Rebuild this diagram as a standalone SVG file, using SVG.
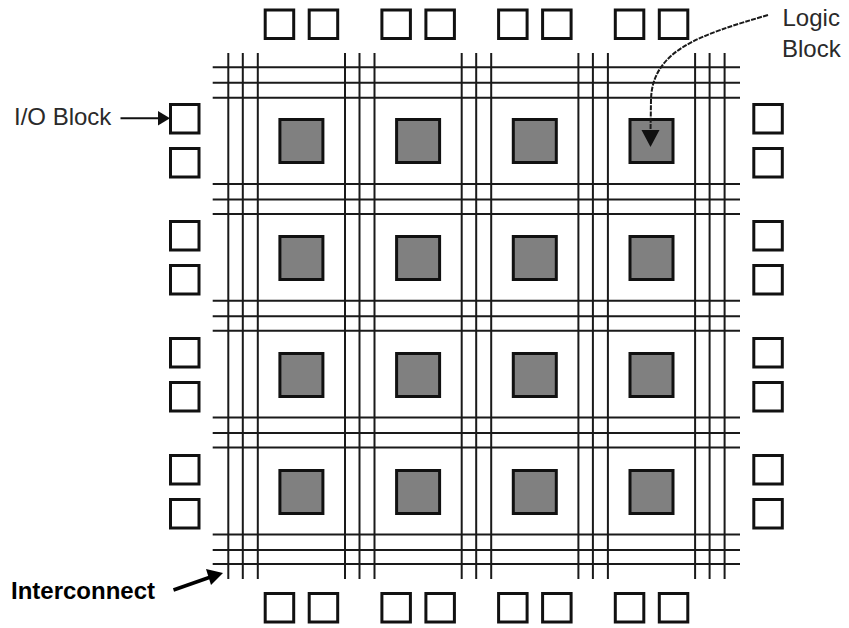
<svg xmlns="http://www.w3.org/2000/svg" width="849" height="628" viewBox="0 0 849 628">
<style>
.w{stroke:#1a1a1a;stroke-width:2;fill:none}
.lb{fill:#808080;stroke:#111;stroke-width:3}
.io{fill:#fff;stroke:#111;stroke-width:3}
.t{font-family:"Liberation Sans",Arial,sans-serif;font-size:24px;fill:#2a2a2a}
.tb{font-family:"Liberation Sans",Arial,sans-serif;font-size:24px;font-weight:bold;fill:#000}
</style>
<rect width="849" height="628" fill="#fff"/>
<g id="logic-blocks">
<g id="lb-1-1"><rect class="lb" x="279.9" y="119.5" width="43" height="43"/></g>
<g id="lb-1-2"><rect class="lb" x="396.6" y="119.5" width="43" height="43"/></g>
<g id="lb-1-3"><rect class="lb" x="513.3" y="119.5" width="43" height="43"/></g>
<g id="lb-1-4"><rect class="lb" x="630" y="119.5" width="43" height="43"/></g>
<g id="lb-2-1"><rect class="lb" x="279.9" y="236.5" width="43" height="43"/></g>
<g id="lb-2-2"><rect class="lb" x="396.6" y="236.5" width="43" height="43"/></g>
<g id="lb-2-3"><rect class="lb" x="513.3" y="236.5" width="43" height="43"/></g>
<g id="lb-2-4"><rect class="lb" x="630" y="236.5" width="43" height="43"/></g>
<g id="lb-3-1"><rect class="lb" x="279.9" y="353.5" width="43" height="43"/></g>
<g id="lb-3-2"><rect class="lb" x="396.6" y="353.5" width="43" height="43"/></g>
<g id="lb-3-3"><rect class="lb" x="513.3" y="353.5" width="43" height="43"/></g>
<g id="lb-3-4"><rect class="lb" x="630" y="353.5" width="43" height="43"/></g>
<g id="lb-4-1"><rect class="lb" x="279.9" y="470.5" width="43" height="43"/></g>
<g id="lb-4-2"><rect class="lb" x="396.6" y="470.5" width="43" height="43"/></g>
<g id="lb-4-3"><rect class="lb" x="513.3" y="470.5" width="43" height="43"/></g>
<g id="lb-4-4"><rect class="lb" x="630" y="470.5" width="43" height="43"/></g>
</g>
<g id="io-top">
<g id="io-t1"><rect class="io" x="265.2" y="10" width="28.5" height="28.5"/><rect class="io" x="309.2" y="10" width="28.5" height="28.5"/></g>
<g id="io-t2"><rect class="io" x="381.9" y="10" width="28.5" height="28.5"/><rect class="io" x="425.9" y="10" width="28.5" height="28.5"/></g>
<g id="io-t3"><rect class="io" x="498.6" y="10" width="28.5" height="28.5"/><rect class="io" x="542.6" y="10" width="28.5" height="28.5"/></g>
<g id="io-t4"><rect class="io" x="615.3" y="10" width="28.5" height="28.5"/><rect class="io" x="659.3" y="10" width="28.5" height="28.5"/></g>
</g>
<g id="io-bottom">
<g id="io-b1"><rect class="io" x="265.2" y="593.5" width="28.5" height="28.5"/><rect class="io" x="309.2" y="593.5" width="28.5" height="28.5"/></g>
<g id="io-b2"><rect class="io" x="381.9" y="593.5" width="28.5" height="28.5"/><rect class="io" x="425.9" y="593.5" width="28.5" height="28.5"/></g>
<g id="io-b3"><rect class="io" x="498.6" y="593.5" width="28.5" height="28.5"/><rect class="io" x="542.6" y="593.5" width="28.5" height="28.5"/></g>
<g id="io-b4"><rect class="io" x="615.3" y="593.5" width="28.5" height="28.5"/><rect class="io" x="659.3" y="593.5" width="28.5" height="28.5"/></g>
</g>
<g id="io-left">
<g id="io-l1"><rect class="io" x="170.5" y="104.5" width="28.5" height="28.5"/><rect class="io" x="170.5" y="148.5" width="28.5" height="28.5"/></g>
<g id="io-l2"><rect class="io" x="170.5" y="221.5" width="28.5" height="28.5"/><rect class="io" x="170.5" y="265.5" width="28.5" height="28.5"/></g>
<g id="io-l3"><rect class="io" x="170.5" y="338.5" width="28.5" height="28.5"/><rect class="io" x="170.5" y="382.5" width="28.5" height="28.5"/></g>
<g id="io-l4"><rect class="io" x="170.5" y="455.5" width="28.5" height="28.5"/><rect class="io" x="170.5" y="499.5" width="28.5" height="28.5"/></g>
</g>
<g id="io-right">
<g id="io-r1"><rect class="io" x="753.8" y="104.5" width="28.5" height="28.5"/><rect class="io" x="753.8" y="148.5" width="28.5" height="28.5"/></g>
<g id="io-r2"><rect class="io" x="753.8" y="221.5" width="28.5" height="28.5"/><rect class="io" x="753.8" y="265.5" width="28.5" height="28.5"/></g>
<g id="io-r3"><rect class="io" x="753.8" y="338.5" width="28.5" height="28.5"/><rect class="io" x="753.8" y="382.5" width="28.5" height="28.5"/></g>
<g id="io-r4"><rect class="io" x="753.8" y="455.5" width="28.5" height="28.5"/><rect class="io" x="753.8" y="499.5" width="28.5" height="28.5"/></g>
</g>
<g id="connectors">
<g id="interconnect-vertical" class="w">
<path d="M228.3,53V579M242.8,53V579M257.8,53V579"/>
<path d="M345,53V579M359.5,53V579M374.5,53V579"/>
<path d="M461.7,53V579M476.2,53V579M491.2,53V579"/>
<path d="M578.4,53V579M592.9,53V579M607.9,53V579"/>
<path d="M695.1,53V579M709.6,53V579M724.6,53V579"/>
</g>
<g id="interconnect-horizontal" class="w">
<path d="M212.7,67.2H740M212.7,82.7H740M212.7,97.7H740"/>
<path d="M212.7,184H740M212.7,199.5H740M212.7,214H740"/>
<path d="M212.7,300.8H740M212.7,316.3H740M212.7,330.8H740"/>
<path d="M212.7,417.6H740M212.7,433.1H740M212.7,447.6H740"/>
<path d="M212.7,534.4H740M212.7,550H740M212.7,564H740"/>
</g>
<path id="io-arrow" d="M120.5,118.3H160" stroke="#111" stroke-width="2" fill="none"/>
<path d="M158,111 L170,118.3 L158,125.6 z" fill="#111"/>
<path id="logic-arrow" d="M768,15 C700,35 652,50 651,100 L650.5,132" stroke="#1a1a1a" stroke-width="2" stroke-dasharray="5 1.2" fill="none"/>
<path d="M641.5,130 L659.5,130 L650.5,147 z" fill="#111"/>
<path id="interconnect-arrow" d="M173.5,590 L212,576.5" stroke="#000" stroke-width="3.5" fill="none"/>
<path d="M206,569 L223,573 L211,585 z" fill="#000"/>
</g>
<g id="labels">
<text class="t" x="14" y="124.5">I/O Block</text>
<text class="t" x="782.5" y="25.5">Logic</text>
<text class="t" x="782" y="57">Block</text>
<text class="tb" x="11" y="598.5">Interconnect</text>
</g>
</svg>
